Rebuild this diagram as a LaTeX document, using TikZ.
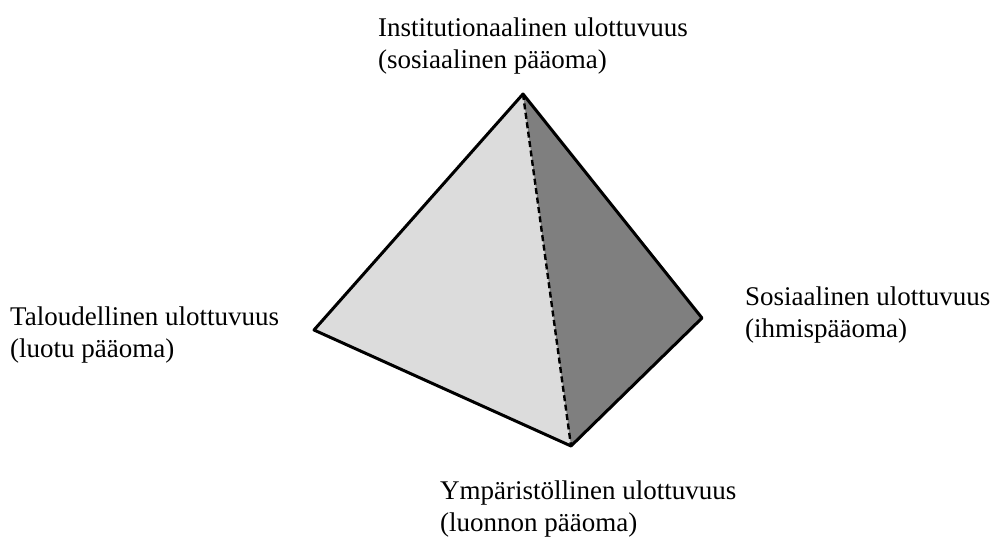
\documentclass[tikz,border=0pt]{standalone}
\usepackage{fontspec}
\setmainfont{Liberation Serif}
\usepackage{tikz}
\usetikzlibrary{positioning}
\definecolor{FaceLight}{HTML}{DCDCDC}
\definecolor{FaceDark}{HTML}{7F7F7F}

\begin{document}
\begin{tikzpicture}[
  x=1pt,y=-1pt,
  label/.style={anchor=base west,align=left,inner sep=0pt,
                font=\fontsize{27}{32}\selectfont},
  rim/.style={draw=black,line width=3pt,line join=round,line cap=round},
  ridge/.style={draw=black,line width=2.4pt,dash pattern=on 6pt off 3.5pt}
]
\useasboundingbox (0,0) rectangle (990,536);

% Corners of the tetrahedron
\coordinate (apex) at (523,94);
\coordinate (left) at (314,330);
\coordinate (right) at (702,318);
\coordinate (bottom) at (571,446);

% Faces
\fill[FaceLight] (apex) -- (left) -- (bottom) -- cycle;
\fill[FaceDark] (apex) -- (right) -- (bottom) -- cycle;

% Edges
\draw[rim] (apex) -- (left) -- (bottom) -- (right) -- cycle;
\draw[ridge] (apex) -- (bottom);

% Dimensions (base = last line)
\node[label] (inst) at (378,68)
  {Institutionaalinen ulottuvuus\\(sosiaalinen pääoma)};
\node[label] (talous) at (10,357)
  {Taloudellinen ulottuvuus\\(luotu pääoma)};
\node[label] (sosiaal) at (745,337)
  {Sosiaalinen ulottuvuus\\(ihmispääoma)};
\node[label] (ympar) at (440,531)
  {Ympäristöllinen ulottuvuus\\(luonnon pääoma)};
\end{tikzpicture}
\end{document}
